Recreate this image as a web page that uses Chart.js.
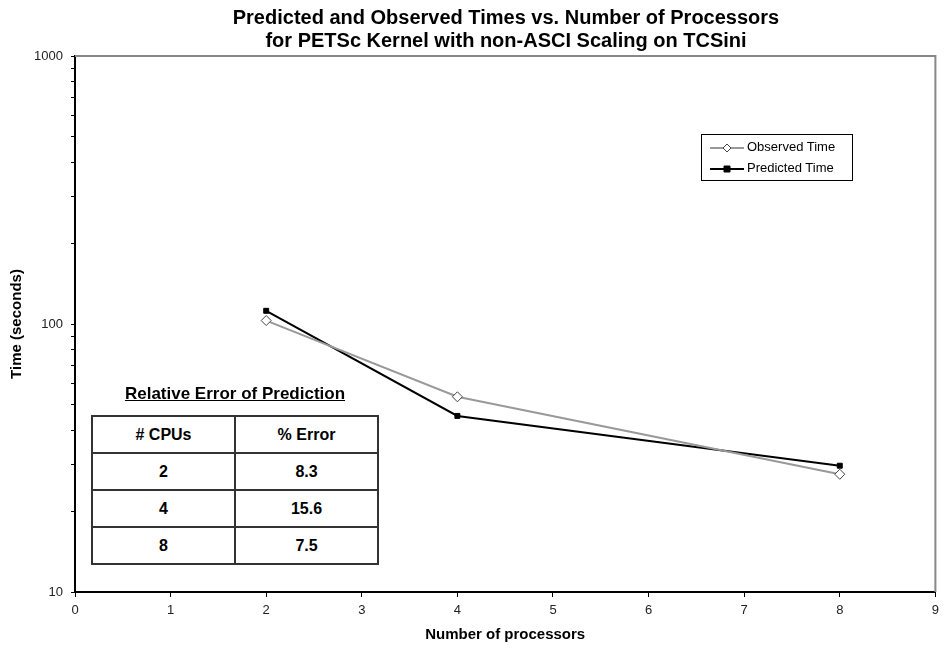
<!DOCTYPE html>
<html lang="en">
<head>
<meta charset="UTF-8">
<title>Predicted and Observed Times vs. Number of Processors</title>
<script src="https://cdn.jsdelivr.net/npm/chart.js@4/dist/chart.umd.min.js"></script>
<style>
    body { margin: 0; background: #fff; font-family: "Liberation Sans", Arial, sans-serif; }
    #wrap { position: relative; width: 945px; height: 650px; }
    #title {
        position: absolute; left: 75px; width: 862px; top: 6px;
        text-align: center; font-weight: bold; font-size: 20px; line-height: 23px; color: #000;
    }
    #legend {
        position: absolute; left: 701px; top: 134px; width: 150px; height: 45px;
        border: 1px solid #000; background: #fff; font-size: 13px; color: #000;
    }
    .lg-row { position: absolute; left: 8px; height: 16px; line-height: 16px; }
    .lg-row canvas { vertical-align: middle; margin-right: 3px; }
    #err-title {
        position: absolute; left: 91px; width: 288px; top: 384px; text-align: center;
        font-weight: bold; font-size: 17px; text-decoration: underline;
    }
    #err-table {
        position: absolute; left: 91px; top: 415px; border-collapse: collapse;
        font-weight: bold; font-size: 16px; background: #fff;
    }
    #err-table td {
        border: 2px solid #333; text-align: center; height: 35px; padding: 0;
    }
    #err-table td:first-child { width: 141px; }
    #err-table td:last-child { width: 141px; }
</style>
</head>
<body>
<div id="wrap">
    <canvas id="chart" width="945" height="650"></canvas>
    <div id="title">Predicted and Observed Times vs. Number of Processors<br>for PETSc Kernel with non-ASCI Scaling on TCSini</div>
    <div id="legend"></div>
    <div id="err-title">Relative Error of Prediction</div>
    <table id="err-table"></table>
</div>
<script>
const processors = [2, 4, 8];
const observedTime = [103, 53.5, 27.5];
const predictedTime = [112, 45.4, 29.6];
const errorCpus = ['2', '4', '8'];
const errorPct = ['8.3', '15.6', '7.5'];
const yLabels = [10, 100, 1000];

// table of relative errors
const table = document.getElementById('err-table');
let rows = '<tr><td># CPUs</td><td>% Error</td></tr>';
for (let i = 0; i < errorCpus.length; i++) {
    rows += '<tr><td>' + errorCpus[i] + '</td><td>' + errorPct[i] + '</td></tr>';
}
table.innerHTML = rows;

// plot frame: gray border on top and right of the chart area
const framePlugin = {
    id: 'frame',
    beforeDatasetsDraw(chart) {
        const a = chart.chartArea;
        const ctx = chart.ctx;
        ctx.save();
        ctx.strokeStyle = '#888';
        ctx.lineWidth = 2;
        ctx.beginPath();
        ctx.moveTo(a.left, a.top);
        ctx.lineTo(a.right, a.top);
        ctx.lineTo(a.right, a.bottom);
        ctx.stroke();
        ctx.restore();
    }
};

const datasets = [
    {
        label: 'Observed Time',
        data: processors.map((p, i) => ({ x: p, y: observedTime[i] })),
        borderColor: '#999',
        borderWidth: 2,
        pointStyle: 'rectRot',
        pointRadius: 5,
        pointBackgroundColor: '#fff',
        pointBorderColor: '#444',
        pointBorderWidth: 1
    },
    {
        label: 'Predicted Time',
        data: processors.map((p, i) => ({ x: p, y: predictedTime[i] })),
        borderColor: '#000',
        borderWidth: 2,
        pointStyle: 'rect',
        pointRadius: 3.5,
        pointBackgroundColor: '#000',
        pointBorderColor: '#000',
        pointBorderWidth: 1
    }
];

// html legend with small marker canvases
const legend = document.getElementById('legend');
datasets.forEach((ds, i) => {
    const row = document.createElement('div');
    row.className = 'lg-row';
    row.style.top = (4 + i * 21) + 'px';
    const c = document.createElement('canvas');
    c.width = 34; c.height = 12;
    const g = c.getContext('2d');
    g.strokeStyle = ds.borderColor; g.lineWidth = 2;
    g.beginPath(); g.moveTo(0, 6); g.lineTo(34, 6); g.stroke();
    g.fillStyle = ds.pointBackgroundColor; g.strokeStyle = ds.pointBorderColor; g.lineWidth = 1;
    g.beginPath();
    if (ds.pointStyle === 'rectRot') {
        g.moveTo(17, 2); g.lineTo(21, 6); g.lineTo(17, 10); g.lineTo(13, 6); g.closePath();
    } else {
        g.rect(14, 3, 6, 6);
    }
    g.fill(); g.stroke();
    row.appendChild(c);
    row.appendChild(document.createTextNode(ds.label));
    legend.appendChild(row);
});

Chart.defaults.font.family = '"Liberation Sans Narrow", "Liberation Sans", Arial, sans-serif';
Chart.defaults.color = '#222';
const boldFont = '"Liberation Sans", Arial, sans-serif';

new Chart(document.getElementById('chart'), {
    type: 'line',
    data: { datasets: datasets },
    plugins: [framePlugin],
    options: {
        responsive: false,
        animation: false,
        layout: { padding: { top: 56, right: 8, left: 0, bottom: 0 } },
        plugins: { legend: { display: false }, title: { display: false }, tooltip: { enabled: false } },
        scales: {
            x: {
                type: 'linear', min: 0, max: 9,
                ticks: { stepSize: 1, font: { size: 13 }, color: '#222', padding: 6 },
                grid: { drawOnChartArea: false, drawTicks: true, tickLength: 5, color: '#000' },
                border: { color: '#000', width: 2 },
                title: { display: true, text: 'Number of processors', font: { family: boldFont, size: 15, weight: 'bold' }, color: '#000', padding: { top: 4, bottom: 6 } },
                afterFit(s) { s.height = 58; }
            },
            y: {
                type: 'logarithmic', min: 10, max: 1000,
                afterBuildTicks(s) {
                    const t = [];
                    for (let d = 10; d < 1000; d *= 10) {
                        for (let k = 1; k < 10; k++) t.push({ value: d * k });
                    }
                    t.push({ value: 1000 });
                    s.ticks = t;
                },
                ticks: {
                    font: { size: 13 }, color: '#222', padding: 8,
                    callback: v => yLabels.includes(v) ? String(v) : ''
                },
                grid: { drawOnChartArea: false, drawTicks: true, tickLength: 4, color: '#000' },
                border: { color: '#000', width: 2 },
                title: { display: true, text: 'Time (seconds)', font: { family: boldFont, size: 15, weight: 'bold' }, color: '#000', padding: { top: 8, bottom: 0 } },
                afterFit(s) { s.width = 75; }
            }
        }
    }
});
</script>
</body>
</html>
